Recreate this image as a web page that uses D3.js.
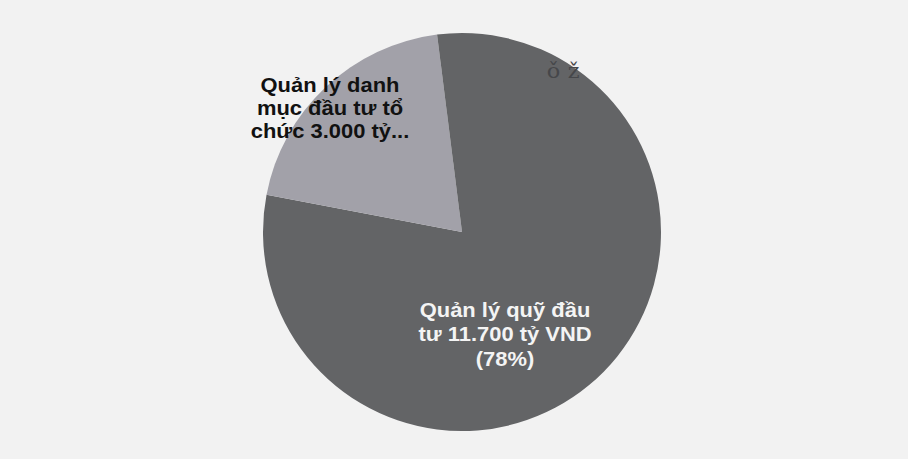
<!DOCTYPE html>
<html>
<head>
<meta charset="utf-8">
<script src="https://cdn.jsdelivr.net/npm/d3@7/dist/d3.min.js"></script>
<style>
  html, body { margin: 0; padding: 0; background: #f2f2f2; }
  svg { display: block; }
</style>
</head>
<body>
<svg id="chart" width="908" height="459"></svg>
<script>
// Data (values in tỷ VND)
const categories = ["Quản lý quỹ đầu tư", "Quản lý danh mục đầu tư tổ chức", "Khác"];
const values = [11700, 3000, 300];
const colors = ["#636466", "#a2a1a9", "#636466"];
const labelLines = [
  ["Quản lý quỹ đầu", "tư 11.700 tỷ VND", "(78%)"],
  ["Quản lý danh", "mục đầu tư tổ", "chức 3.000 tỷ..."],
  ["ǒž"]
];

const svg = d3.select("#chart");
const cx = 462, cy = 232, r = 199;

const pie = d3.pie().sort(null).value(d => d)(values);
const arc = d3.arc().innerRadius(0).outerRadius(r);

const g = svg.append("g").attr("transform", `translate(${cx},${cy})`);
g.selectAll("path.slice")
  .data(pie)
  .join("path")
  .attr("class", "slice")
  .attr("d", arc)
  .attr("fill", (d, i) => colors[i]);

// Labels
const labelPos = [
  { x: 505, y: 317, fill: "#f4f4f4", size: 20.5, weight: "bold", family: "Arial, 'Liberation Sans', sans-serif", lh: 24.5, ls: 0 },
  { x: 330, y: 92, fill: "#111111", size: 20.5, weight: "bold", family: "Arial, 'Liberation Sans', sans-serif", lh: 23, ls: 0 },
  { x: 567, y: 78, fill: "#46474a", size: 21, weight: "normal", family: "'DejaVu Serif', serif", lh: 20, ls: 7 }
];

labelLines.forEach((lines, i) => {
  const p = labelPos[i];
  const t = svg.append("text")
    .attr("text-anchor", "middle")
    .attr("font-family", p.family)
    .attr("font-size", p.size)
    .attr("font-weight", p.weight)
    .attr("letter-spacing", p.ls)
    .attr("fill", p.fill)
    .attr("transform", `translate(${p.x},${p.y}) scale(1.07,1)`);
  lines.forEach((ln, j) => {
    t.append("tspan").attr("x", 0).attr("y", j * p.lh).text(ln);
  });
});
</script>
</body>
</html>
